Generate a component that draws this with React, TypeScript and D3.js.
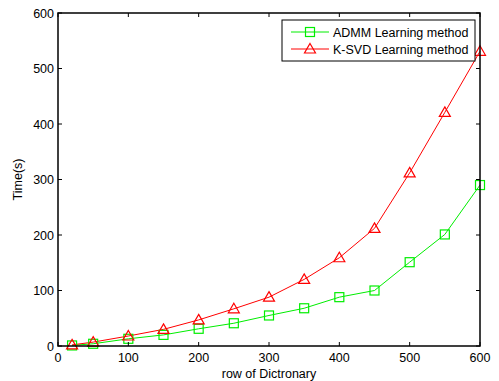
import React from 'react';
import * as d3 from 'd3';

const rows = [20, 50, 100, 150, 200, 250, 300, 350, 400, 450, 500, 550, 600];
const admmTimes = [1, 4, 13, 20, 31, 41, 55, 68, 88, 100, 151, 201, 290];
const ksvdTimes = [2, 7, 18, 30, 47, 67, 88, 120, 159, 212, 312, 421, 531];
const xTicks = [0, 100, 200, 300, 400, 500, 600];
const yTicks = [0, 100, 200, 300, 400, 500, 600];
const seriesNames = ['ADMM Learning method', 'K-SVD Learning method'];

const W = 499, H = 381;
const margin = { top: 13, right: 19, bottom: 35, left: 58 };

export default function App() {
  const iw = W - margin.left - margin.right;
  const ih = H - margin.top - margin.bottom;
  const x = d3.scaleLinear().domain([0, 600]).range([0, iw]);
  const y = d3.scaleLinear().domain([0, 600]).range([ih, 0]);
  const line = d3.line<number>().x((_, i) => x(rows[i])).y(d => y(d));
  const font = 'Arial, "Liberation Sans", Helvetica, sans-serif';
  const fs = 12.5;
  const tick = 4;

  const square = (cx: number, cy: number, key: string | number) => (
    <rect key={key} x={cx - 4.5} y={cy - 4.5} width={9} height={9} fill="none" stroke="#00ee00" strokeWidth={1.2} />
  );
  const triangle = (cx: number, cy: number, key: string | number) => (
    <path key={key} d={`M${cx},${cy - 5.5}L${cx + 5.5},${cy + 4}L${cx - 5.5},${cy + 4}Z`} fill="none" stroke="#ff0000" strokeWidth={1.2} />
  );

  return (
    <svg width={W} height={H} style={{ position: 'absolute', left: 0, top: 0, background: '#fff' }} fontFamily={font}>
      <g transform={`translate(${margin.left},${margin.top})`}>
        <path d={line(admmTimes) || ''} fill="none" stroke="#00ee00" strokeWidth={1} />
        <path d={line(ksvdTimes) || ''} fill="none" stroke="#ff0000" strokeWidth={1} />
        {admmTimes.map((v, i) => square(x(rows[i]), y(v), 'a' + i))}
        {ksvdTimes.map((v, i) => triangle(x(rows[i]), y(v), 'k' + i))}

        <rect x={0} y={0} width={iw} height={ih} fill="none" stroke="#000" strokeWidth={1.5} />
        {xTicks.map(t => (
          <g key={'x' + t}>
            <line x1={x(t)} x2={x(t)} y1={ih} y2={ih - tick} stroke="#000" />
            <line x1={x(t)} x2={x(t)} y1={0} y2={tick} stroke="#000" />
            <text x={x(t)} y={ih + 16} fontSize={fs} textAnchor="middle" fill="#000">{t}</text>
          </g>
        ))}
        {yTicks.map(t => (
          <g key={'y' + t}>
            <line x1={0} x2={tick} y1={y(t)} y2={y(t)} stroke="#000" />
            <line x1={iw} x2={iw - tick} y1={y(t)} y2={y(t)} stroke="#000" />
            <text x={-4} y={y(t) + 4.5} fontSize={fs} textAnchor="end" fill="#000">{t}</text>
          </g>
        ))}
        <text x={iw / 2} y={ih + 32} fontSize={fs} textAnchor="middle" fill="#000">row of Dictronary</text>
        <text transform={`translate(${-36},${ih / 2}) rotate(-90)`} fontSize={fs} textAnchor="middle" fill="#000">Time(s)</text>

        <g transform={`translate(${282 - margin.left},${20 - margin.top})`}>
          <rect x={0} y={0} width={193} height={41} fill="#fff" stroke="#000" strokeWidth={1} />
          <line x1={9} x2={47} y1={12} y2={12} stroke="#00ee00" />
          {square(28, 12, 'ls')}
          <text x={51} y={16.5} fontSize={fs} fill="#000">{seriesNames[0]}</text>
          <line x1={9} x2={47} y1={29} y2={29} stroke="#ff0000" />
          {triangle(28, 29, 'lt')}
          <text x={51} y={33.5} fontSize={fs} fill="#000">{seriesNames[1]}</text>
        </g>
      </g>
    </svg>
  );
}
